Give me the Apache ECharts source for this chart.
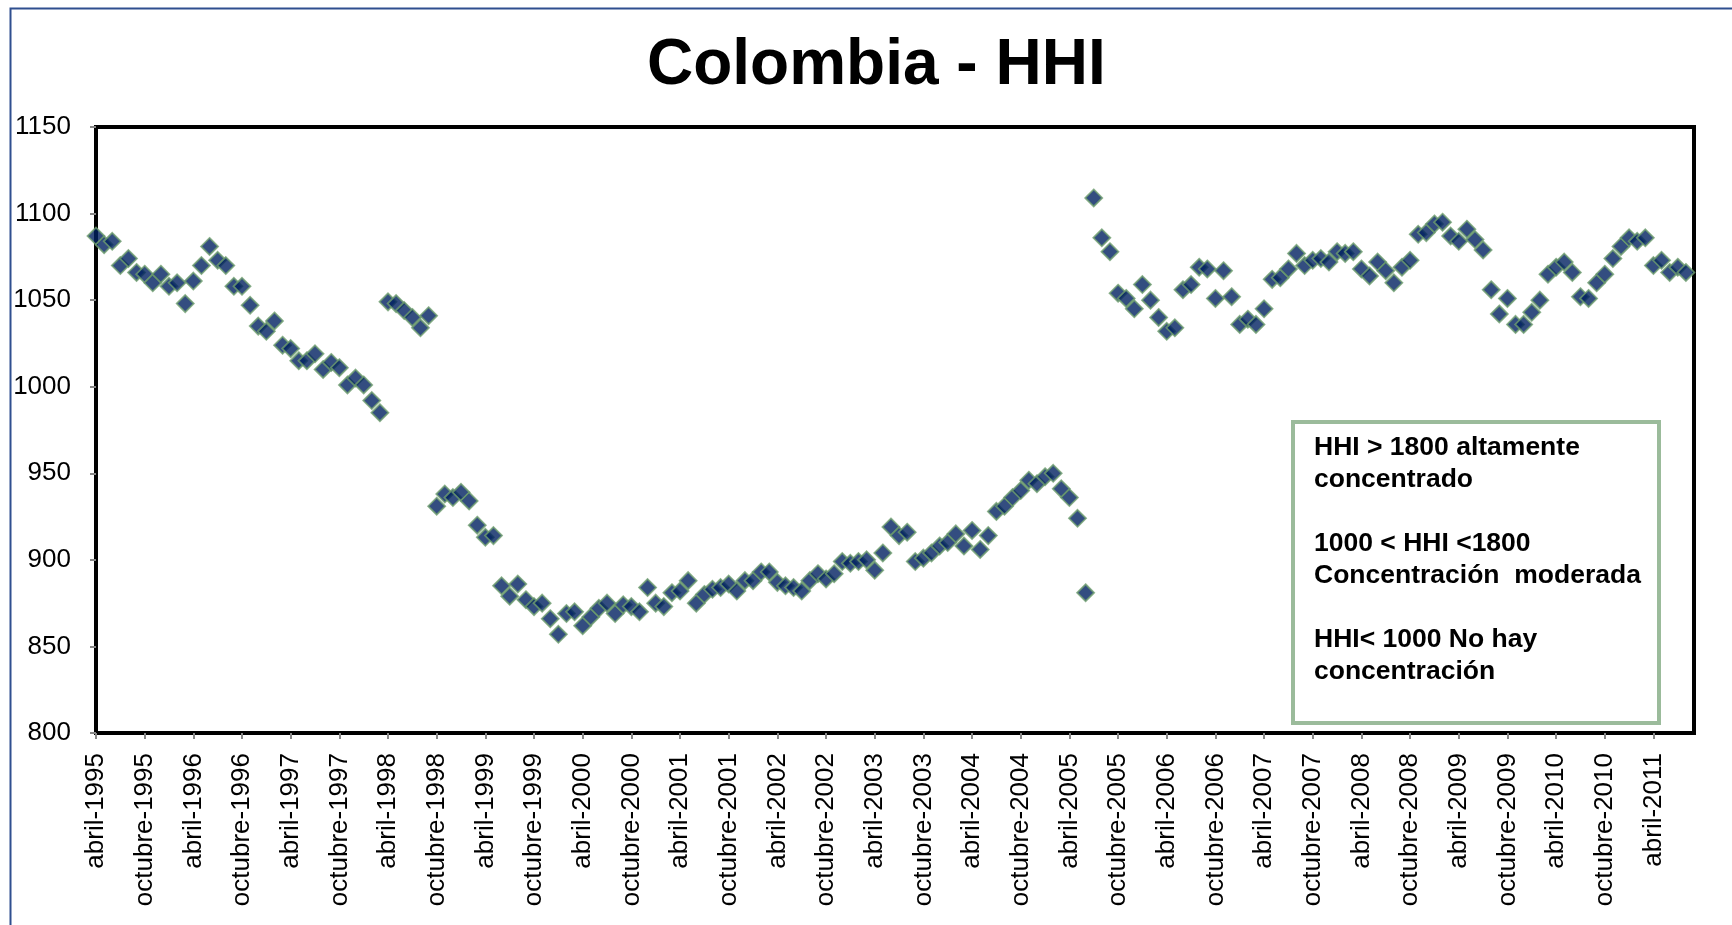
<!DOCTYPE html>
<html>
<head>
<meta charset="utf-8">
<script src="https://cdn.jsdelivr.net/npm/echarts@6/dist/echarts.min.js"></script>
<style>
html,body{margin:0;padding:0;background:#fff;}
#chart{width:1732px;height:925px;}
</style>
</head>
<body>
<div id="chart"></div>
<script>
// Monthly HHI, abril-1995 .. agosto-2011 (index 0 = abril-1995)
var hhi = [
1087,1082,1084,1070,1074,1066,1065,1060,1065,1058,1060,1048,
1061,1070,1081,1073,1070,1058,1058,1047,1035,1032,1038,1024,
1022,1015,1015,1019,1010,1014,1011,1001,1005,1001,992,985,
1049,1048,1044,1040,1034,1041,931,938,936,939,934,920,
913,914,885,879,886,877,873,875,866,857,869,870,
862,867,872,875,869,874,873,870,884,875,873,881,
882,888,875,880,883,884,886,882,888,888,893,893,
887,885,884,882,888,892,889,892,899,898,899,900,
894,904,919,914,916,899,901,904,908,910,915,908,
917,906,914,928,931,936,940,946,944,948,950,941,
936,924,881,1109,1086,1078,1054,1051,1045,1059,1050,1040,
1032,1034,1056,1059,1069,1068,1051,1067,1052,1036,1039,1036,
1045,1062,1063,1068,1077,1070,1073,1074,1072,1078,1077,1078,
1068,1064,1072,1067,1060,1069,1073,1088,1089,1094,1095,1087,
1084,1091,1085,1079,1056,1042,1051,1036,1036,1043,1050,1065,
1069,1072,1066,1052,1051,1060,1065,1074,1081,1086,1084,1086,
1070,1073,1066,1069,1066
];

// x tick labels, one every 6 months starting at index 0
var tickLabels = [
'abril-1995','octubre-1995','abril-1996','octubre-1996','abril-1997','octubre-1997',
'abril-1998','octubre-1998','abril-1999','octubre-1999','abril-2000','octubre-2000',
'abril-2001','octubre-2001','abril-2002','octubre-2002','abril-2003','octubre-2003',
'abril-2004','octubre-2004','abril-2005','octubre-2005','abril-2006','octubre-2006',
'abril-2007','octubre-2007','abril-2008','octubre-2008','abril-2009','octubre-2009',
'abril-2010','octubre-2010','abril-2011'
];

var yTicks = [800, 850, 900, 950, 1000, 1050, 1100, 1150];

var noteLines = [
'HHI > 1800 altamente',
'concentrado',
'',
'1000 < HHI <1800',
'Concentración  moderada',
'',
'HHI< 1000 No hay',
'concentración'
];

var FONT = "'Liberation Sans', Arial, sans-serif";

var points = hhi.map(function (v, i) { return [i, v]; });

var chart = echarts.init(document.getElementById('chart'), null, {renderer: 'canvas'});
chart.setOption({
  backgroundColor: '#ffffff',
  animation: false,
  title: {
    text: 'Colombia - HHI',
    left: 642,
    top: 29,
    textStyle: {fontFamily: FONT, fontSize: 64, fontWeight: 'bold', color: '#000'}
  },
  grid: {
    left: 96, top: 127, width: 1598, height: 606,
    show: true, borderColor: '#000', borderWidth: 4, backgroundColor: 'transparent'
  },
  xAxis: {
    type: 'value',
    min: 0, max: 197, interval: 6,
    splitLine: {show: false},
    axisLine: {show: false},
    axisTick: {show: true, length: 6, lineStyle: {color: '#888', width: 2}},
    axisLabel: {
      rotate: 90, margin: 20, showMaxLabel: false,
      fontFamily: FONT, fontSize: 26, color: '#000',
      formatter: function (v) {
        if (v % 6 !== 0) return '';
        var k = v / 6;
        return tickLabels[k] || '';
      }
    }
  },
  yAxis: {
    type: 'value',
    min: yTicks[0], max: yTicks[yTicks.length - 1], interval: 50,
    splitLine: {show: false},
    axisLine: {show: false},
    axisTick: {show: true, length: 6, lineStyle: {color: '#888', width: 2}},
    axisLabel: {
      margin: 25, fontFamily: FONT, fontSize: 26, color: '#000',
      formatter: function (v) { return String(v); }
    }
  },
  series: [{
    type: 'scatter',
    data: points,
    symbol: 'diamond',
    symbolSize: 17,
    itemStyle: {color: '#002060', borderColor: '#6E9E6E', borderWidth: 1.8},
    z: 3
  }],
  graphic: [
    {
      type: 'rect', left: 8, top: 6, z: -10, silent: true,
      shape: {width: 1760, height: 960},
      style: {fill: 'none', stroke: '#2F4F8F', lineWidth: 2}
    },
    {
      type: 'rect', z: 10,
      shape: {x: 1293, y: 422, width: 366, height: 301},
      style: {fill: '#fff', stroke: '#9BBB9B', lineWidth: 4}
    },
    {
      type: 'text', z: 11,
      x: 1314, y: 432,
      style: {
        text: noteLines.join('\n'),
        font: 'bold 26.5px ' + FONT,
        fill: '#000',
        lineHeight: 32,
        verticalAlign: 'top'
      }
    }
  ]
});
</script>
</body>
</html>
